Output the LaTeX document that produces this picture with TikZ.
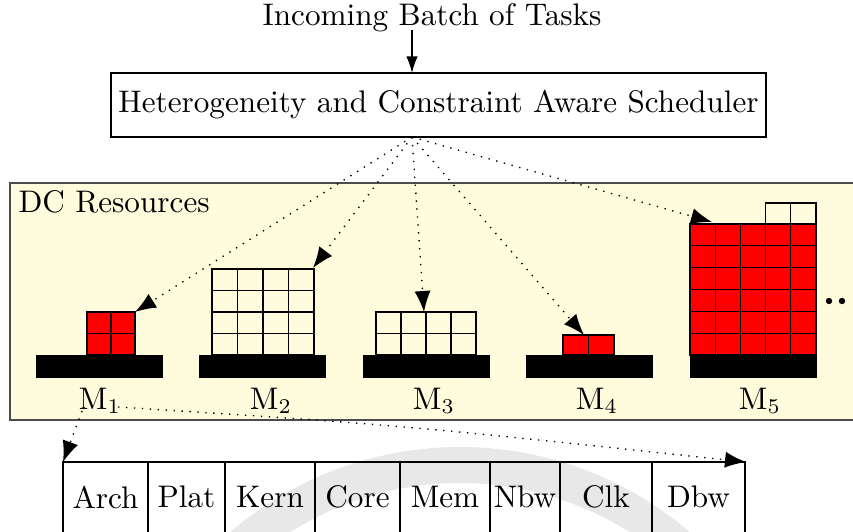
\documentclass[tikz,border=0pt]{standalone}
\usetikzlibrary{arrows.meta}
\definecolor{dcbg}{RGB}{255,252,221}
\definecolor{cellred}{RGB}{255,0,0}
\definecolor{seal}{RGB}{232,232,232}
\begin{document}
\begin{tikzpicture}[x=0.3333pt,y=-0.3333pt,
  font=\fontsize{10.4}{12.5}\selectfont,
  bigtip/.style={-{Latex[length=7pt,width=5.4pt]}},
  dotline/.style={bigtip,line width=0.45pt,dash pattern=on 0.45pt off 2.2pt},
  cell/.style={draw=black,line width=0.4pt},
  tcell/.style={inner sep=0pt}]
\useasboundingbox (0,0) rectangle (853,531);
\clip (0,0) rectangle (853,531);

% faint seal in the background of the lower part
\draw[seal,line width=12pt] (460,800) ++(220:335) arc[start angle=220,end angle=320,radius=335];

% top: input and scheduler
\node (inc) at (432,18) {Incoming Batch of Tasks};
\node[draw,minimum width=218.3pt,minimum height=21.3pt,inner sep=0pt] (sched) at (438.5,105)
  {Heterogeneity and Constraint Aware Scheduler};
\coordinate (incfoot) at (412,30);
\coordinate (schedtop) at (412,73);
\draw[-{Latex[length=5.5pt,width=3.8pt]},line width=0.45pt] (incfoot) -- (schedtop);

% data-centre resources panel
\draw[fill=dcbg,draw=black!70,line width=0.5pt] (10,183) rectangle (860,420);
\node[anchor=north west,inner sep=0pt] (dclabel) at (18,190) {DC Resources};

% machine base bars
\foreach \bx in {36,199,363,526,690}
  \fill (\bx,355) rectangle ++(127,23);

% M1: 2x2 occupied
\foreach \i in {0,1} \foreach \j in {0,1}
  \draw[cell,fill=cellred] (87+24*\i,312+21.5*\j) rectangle ++(24,21.5);
% M2: 4x4 free
\foreach \i in {0,...,3} \foreach \j in {0,...,3}
  \draw[cell] (212+25.5*\i,269+21.5*\j) rectangle ++(25.5,21.5);
% M3: 4x2 free
\foreach \i in {0,...,3} \foreach \j in {0,1}
  \draw[cell] (376+25*\i,312+21.5*\j) rectangle ++(25,21.5);
% M4: 2x1 occupied
\foreach \i in {0,1}
  \draw[cell,fill=cellred] (563+25.5*\i,335) rectangle ++(25.5,20);
% M5: 5x6 occupied plus two free on top
\foreach \i in {0,...,4} \foreach \j in {0,...,5}
  \draw[cell,fill=cellred] (690+25.2*\i,224+21.83*\j) rectangle ++(25.2,21.83);
\foreach \i in {3,4}
  \draw[cell] (690+25.2*\i,203) rectangle ++(25.2,21);

% more machines
\fill (829,301) circle (3.2);
\fill (842,301) circle (3.2);

% machine labels
\node (m1) at (100,401) {M$_1$};
\node (m2) at (271,401) {M$_2$};
\node (m3) at (434,401) {M$_3$};
\node (m4) at (597,401) {M$_4$};
\node (m5) at (760,401) {M$_5$};

% scheduler dispatch arrows
\coordinate (src) at (412,137);
\coordinate (t1) at (135,312);
\coordinate (t2) at (313,268);
\coordinate (t3) at (424,312);
\coordinate (t4) at (584,335);
\coordinate (t5) at (712,222);
\foreach \t in {t1,t2,t3,t4,t5}
  \draw[dotline] (src) -- (\t);

% attribute vector of a machine
\foreach \a/\b/\txt in {63/148/Arch,148/225/Plat,225/315/Kern,315/400/Core,
                         400/490/Mem,490/560/Nbw,560/652/Clk,652/745/Dbw}{
  \draw (\a,462) rectangle (\b,545);
  \node[tcell] (attr-\txt) at ({(\a+\b)/2},497) {\txt};
}
\coordinate (vecl) at (63,462);
\coordinate (vecr) at (746,462);
\coordinate (m1a) at (82,411);
\coordinate (m1b) at (118,407);
\draw[dotline] (m1a) -- (vecl);
\draw[dotline] (m1b) .. controls (400,425) .. (vecr);
\end{tikzpicture}
\end{document}
